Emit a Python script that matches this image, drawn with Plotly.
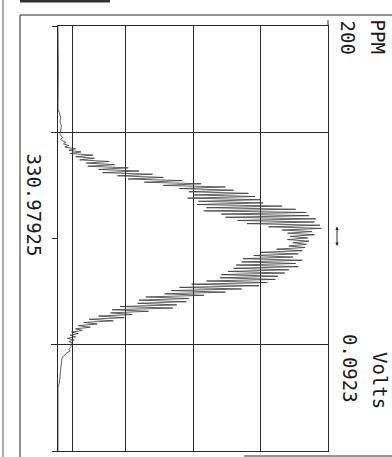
import plotly.graph_objects as go

# ---- data ----
# vertical: scan position (0 = top, 400 = bottom); horizontal: PPM (0..200)
base_top_scan = [0, 40, 78, 82, 86, 90, 94, 98, 102, 105, 106.5]
base_top_ppm = [0, 0.3, 0, 1, 2, 1.5, 2.5, 2, 1.5, 3.5, 2]

peak_scan = [108, 109.5, 111, 112.5, 114, 115.5, 117, 118.5, 120, 121.5,
             123, 124.5, 126, 127.5, 129, 130.5, 132, 133.5, 135, 136.5,
             138, 139.5, 141, 142.5, 144, 145.5, 147, 148.5, 150, 151.5,
             153, 154.5, 156, 157.5, 159, 160.5, 162, 163.5, 165, 166.5,
             168, 169.5, 171, 172.5, 174, 175.5, 177, 178.5, 180, 181.5,
             183, 184.5, 186, 187.5, 189, 190.5, 192, 193.5, 195, 196.5,
             198, 199.5, 201, 202.5, 204, 205.5, 207, 208.5, 210, 211.5,
             213, 214.5, 216, 217.5, 219, 220.5, 222, 223.5, 225, 226.5,
             228, 229.5, 231, 232.5, 234, 235.5, 237, 238.5, 240, 241.5,
             243, 244.5, 246, 247.5, 249, 250.5, 252, 253.5, 255, 256.5,
             258, 259.5, 261, 262.5, 264, 265.5, 267, 268.5, 270, 271.5,
             273, 274.5, 276, 277.5, 279, 280.5, 282, 283.5, 285, 286.5,
             288, 289.5, 291, 292.5, 294, 295.5, 297, 298.5, 300, 301.5]
peak_ppm = [3, 6, 4, 8, 5, 13, 8, 17, 9, 26,
            13, 27, 16, 38, 21, 42, 22, 52, 30, 60,
            33, 70, 44, 78, 52, 92, 64, 106, 78, 124,
            90, 130, 97, 141, 101, 146, 96, 150, 104, 152,
            103, 166, 110, 176, 108, 184, 121, 186, 124, 191,
            133, 190, 140, 194, 156, 195, 166, 188, 170, 190,
            172, 185, 170, 186, 174, 184, 171, 183, 162, 181,
            150, 178, 145, 174, 137, 181, 136, 176, 132, 178,
            130, 171, 126, 168, 121, 163, 120, 161, 110, 155,
            99, 149, 90, 136, 84, 124, 79, 108, 65, 97,
            60, 95, 59, 88, 46, 85, 40, 67, 39, 55,
            30, 49, 23, 41, 19, 29, 15, 24, 13, 18,
            10, 15, 9, 13, 7, 12, 8, 11, 9, 10]

base_bot_scan = [304, 306, 308, 310, 312, 316, 320, 325, 330, 336, 340, 370, 400]
base_bot_ppm = [8, 9, 6, 5, 3, 2.5, 2, 1.8, 1.5, 1, 0, 0, 0]

ppm_ticks = [0, 10.4, 50, 100, 150, 200]
scan_grid = [100, 300]
scan_ticks = [0, 200, 400]

label_ppm = "PPM"
label_ppm_val = "200"
label_volts = "Volts"
label_volts_val = "0.0923"
label_mass = "330.97925"

scan = base_top_scan + peak_scan + base_bot_scan
ppm = base_top_ppm + peak_ppm + base_bot_ppm

LINE = "#2a2a2a"
FONT = "DejaVu Sans Mono"

fig = go.Figure()
fig.add_trace(go.Scatter(x=ppm, y=scan, mode="lines",
                         line=dict(color="#3a3a3a", width=0.8),
                         hoverinfo="skip", showlegend=False))

fig.update_layout(
    width=392, height=457,
    margin=dict(l=58, r=64, t=26, b=6),
    paper_bgcolor="white", plot_bgcolor="white",
    showlegend=False,
    xaxis=dict(range=[0, 200], tickmode="array", tickvals=ppm_ticks,
               showgrid=True, gridcolor=LINE, gridwidth=1,
               showticklabels=False, ticks="", zeroline=False,
               showline=True, linecolor=LINE, linewidth=1, mirror=True),
    yaxis=dict(range=[400, 0], tickmode="array", tickvals=scan_grid,
               showgrid=True, gridcolor=LINE, gridwidth=1,
               showticklabels=False, ticks="outside", ticklen=6,
               tickcolor=LINE, tickwidth=1, zeroline=False,
               showline=True, linecolor=LINE, linewidth=1.2, mirror=True,
               minor=dict(tickmode="array", tickvals=scan_ticks,
                          ticks="outside", ticklen=5, tickcolor=LINE,
                          showgrid=False)),
)

def px(x):
    return (x - 58) / 270.0

def py(y):
    return 1 - (y - 26) / 425.0

shapes = [
    dict(type="line", xref="paper", yref="paper", x0=px(20), x1=px(392),
         y0=py(15), y1=py(15), line=dict(color=LINE, width=1)),
    dict(type="line", xref="paper", yref="paper", x0=px(20), x1=px(110),
         y0=py(1), y1=py(1), line=dict(color="#333", width=3)),
    dict(type="line", xref="paper", yref="paper", x0=px(20), x1=px(20),
         y0=py(15), y1=py(458), line=dict(color=LINE, width=1)),
    dict(type="line", xref="paper", yref="paper", x0=px(3), x1=px(3),
         y0=py(0), y1=py(458), line=dict(color="#555", width=1)),
    dict(type="line", xref="paper", yref="paper", x0=px(244), x1=px(392),
         y0=py(456), y1=py(456), line=dict(color=LINE, width=1)),
    dict(type="line", xref="paper", yref="paper", x0=px(328), x1=px(328),
         y0=py(20), y1=py(26), line=dict(color=LINE, width=1)),
]
fig.update_layout(shapes=shapes)

tf = dict(family=FONT, size=19, color="#1a1a1a")
ann = [
    dict(text=label_ppm, x=px(377), y=py(36.5)),
    dict(text=label_ppm_val, x=px(348), y=py(37.5)),
    dict(text=label_volts, x=px(380), y=py(380)),
    dict(text=label_volts_val, x=px(350), y=py(368)),
    dict(text=label_mass, x=px(33), y=py(204.5)),
]
for a in ann:
    fig.add_annotation(xref="paper", yref="paper", showarrow=False,
                       textangle=90, xanchor="center", yanchor="middle",
                       font=tf, **a)

fig.add_annotation(xref="paper", yref="paper", x=px(337), y=py(246),
                   ax=0, ay=-21, text="", showarrow=True,
                   arrowhead=2, arrowside="end+start", arrowsize=0.7,
                   arrowwidth=1, arrowcolor=LINE)

fig.write_html("out.html",
               config={"displayModeBar": False},
               post_script="document.body.style.margin='0px';"
                           "document.body.style.overflow='hidden';")
